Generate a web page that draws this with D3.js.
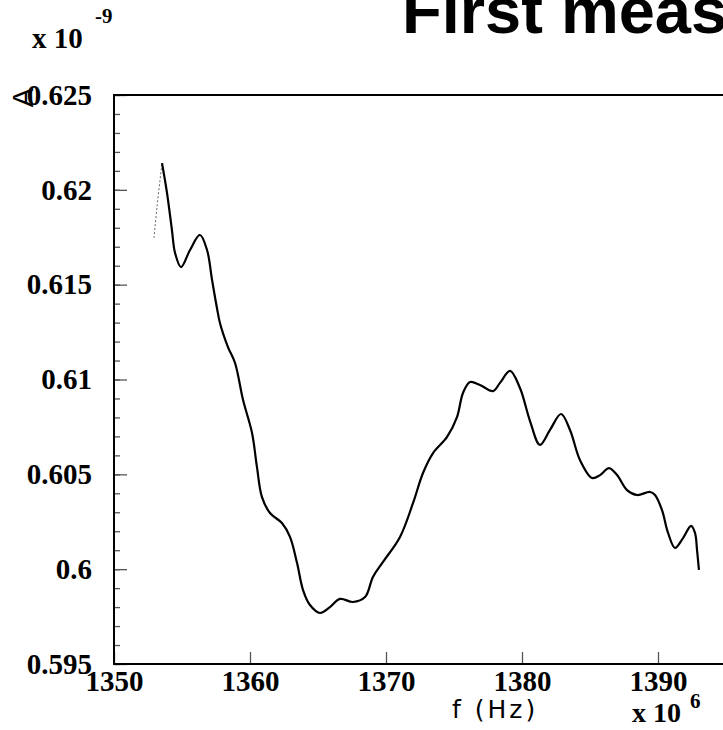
<!DOCTYPE html>
<html>
<head>
<meta charset="utf-8">
<script src="https://cdn.jsdelivr.net/npm/d3@7"></script>
<style>
  body { margin: 0; background: #fff; overflow: hidden; }
  #viz svg { display: block; }
</style>
</head>
<body>
<div id="viz"></div>
<script>
// frequency in MHz (axis is x 10^6 Hz)
const freqs = [
  1352.94, 1353.16, 1353.53, 1353.90, 1354.26, 1354.49, 1354.93, 1355.59, 1356.32, 1356.84,
  1357.21, 1357.57, 1357.79, 1358.38, 1358.90, 1359.49, 1360.15, 1360.51, 1360.88, 1361.47,
  1362.35, 1362.94, 1363.46, 1363.90, 1364.41, 1365.15, 1365.88, 1366.62, 1367.57, 1368.46,
  1369.04, 1369.78, 1371.03, 1371.99, 1372.72, 1373.46, 1374.49, 1375.22, 1375.66, 1376.18,
  1376.91, 1377.87, 1378.38, 1379.12, 1379.85, 1380.59, 1381.32, 1382.06, 1382.87, 1383.53,
  1384.26, 1385.15, 1385.74, 1386.40, 1386.99, 1387.72, 1388.46, 1389.41, 1389.78, 1390.29,
  1390.74, 1391.25, 1391.84, 1392.43, 1392.72, 1392.87, 1393.01,
];

// amplitude (x 10^-9)
const amps = [
  0.61746, 0.61909, 0.62141, 0.61983, 0.61788, 0.61667, 0.61593, 0.61683, 0.61762, 0.61683,
  0.61525, 0.61377, 0.61298, 0.61171, 0.61087, 0.60892, 0.60718, 0.60539, 0.60380, 0.60296,
  0.60243, 0.60170, 0.60032, 0.59890, 0.59811, 0.59769, 0.59800, 0.59843, 0.59827, 0.59853,
  0.59959, 0.60038, 0.60170, 0.60349, 0.60507, 0.60612, 0.60697, 0.60802, 0.60929, 0.60987,
  0.60971, 0.60939, 0.60982, 0.61045, 0.60955, 0.60781, 0.60655, 0.60734, 0.60818, 0.60734,
  0.60576, 0.60481, 0.60496, 0.60533, 0.60496, 0.60417, 0.60391, 0.60407, 0.60391, 0.60312,
  0.60191, 0.60112, 0.60164, 0.60228, 0.60191, 0.60101, 0.59996,
];

const xTicks = [1350, 1360, 1370, 1380, 1390];
const yTicks = [0.595, 0.6, 0.605, 0.61, 0.615, 0.62, 0.625];

const width = 723;
const height = 730;
const frameLeft = 114;
const frameRight = 794; // frame runs past the window edge
const frameTop = 95;
const frameBottom = 664;

const serif = '"Liberation Serif", "Times New Roman", serif';
const sans = '"Liberation Sans", Arial, sans-serif';

const svg = d3.select('#viz')
  .append('svg')
  .attr('width', width)
  .attr('height', height);

const x = d3.scaleLinear().domain([1350, 1400]).range([frameLeft, frameRight]);
const y = d3.scaleLinear().domain([0.595, 0.625]).range([frameBottom, frameTop]);

// minor y ticks
svg.append('g')
  .attr('transform', `translate(${frameLeft},0)`)
  .call(d3.axisLeft(y)
    .tickValues(d3.range(0, 31).map(i => 0.595 + i * 0.001))
    .tickSize(-6)
    .tickFormat(''))
  .call(g => g.select('.domain').remove())
  .call(g => g.selectAll('line').attr('stroke', '#555').attr('stroke-width', 1.3));

// major y ticks + labels
svg.append('g')
  .attr('transform', `translate(${frameLeft},0)`)
  .call(d3.axisLeft(y)
    .tickValues(yTicks)
    .tickSize(-13)
    .tickPadding(22)
    .tickFormat(d => String(+d.toFixed(3))))
  .call(g => g.select('.domain').remove())
  .call(g => g.selectAll('line').attr('stroke', '#555').attr('stroke-width', 1.3))
  .call(g => g.selectAll('text')
    .attr('fill', '#000')
    .style('font-family', serif)
    .style('font-weight', 'bold')
    .style('font-size', '29px'));

// x ticks + labels
svg.append('g')
  .attr('transform', `translate(0,${frameBottom})`)
  .call(d3.axisBottom(x)
    .tickValues(xTicks)
    .tickSize(-12)
    .tickPadding(6)
    .tickFormat(d3.format('d')))
  .call(g => g.select('.domain').remove())
  .call(g => g.selectAll('line').attr('stroke', '#555').attr('stroke-width', 1.3))
  .call(g => g.selectAll('text')
    .attr('fill', '#000')
    .style('font-family', serif)
    .style('font-weight', 'bold')
    .style('font-size', '29px'));

// frame
svg.append('rect')
  .attr('x', frameLeft)
  .attr('y', frameTop)
  .attr('width', frameRight - frameLeft)
  .attr('height', frameBottom - frameTop)
  .attr('fill', 'none')
  .attr('stroke', '#000')
  .attr('stroke-width', 2);

// curve
const points = freqs.map((f, i) => [f, amps[i]]);
const line = d3.line()
  .x(d => x(d[0]))
  .y(d => y(d[1]))
  .curve(d3.curveCatmullRom.alpha(0.5));

// the first rise is only sparsely sampled, so draw it fainter
svg.append('path')
  .datum(points.slice(0, 3))
  .attr('d', line)
  .attr('fill', 'none')
  .attr('stroke', '#666')
  .attr('stroke-width', 1)
  .attr('stroke-dasharray', '2,2');

svg.append('path')
  .datum(points.slice(2))
  .attr('d', line)
  .attr('fill', 'none')
  .attr('stroke', '#000')
  .attr('stroke-width', 2.2);

// title (runs off the right edge, as in the original)
svg.append('text')
  .attr('x', 402)
  .attr('y', 33)
  .style('font-family', sans)
  .style('font-weight', 'bold')
  .style('font-size', '65px')
  .text('First measurement');

// y exponent
svg.append('text')
  .attr('x', 32)
  .attr('y', 48)
  .style('font-family', serif)
  .style('font-weight', 'bold')
  .style('font-size', '29px')
  .text('x 10');
svg.append('text')
  .attr('x', 95)
  .attr('y', 23)
  .style('font-family', serif)
  .style('font-weight', 'bold')
  .style('font-size', '21px')
  .text('-9');

// y title
svg.append('text')
  .attr('transform', 'translate(33,88) rotate(-90)')
  .attr('text-anchor', 'end')
  .style('font-family', sans)
  .style('font-size', '29px')
  .text('A');

// x title
svg.append('text')
  .attr('x', 452)
  .attr('y', 718)
  .style('font-family', '"DejaVu Sans", sans-serif')
  .style('font-size', '25px')
  .style('letter-spacing', '3px')
  .text('f (Hz)');

// x exponent
svg.append('text')
  .attr('x', 632)
  .attr('y', 722)
  .style('font-family', serif)
  .style('font-weight', 'bold')
  .style('font-size', '28px')
  .text('x 10');
svg.append('text')
  .attr('x', 690)
  .attr('y', 708)
  .style('font-family', serif)
  .style('font-weight', 'bold')
  .style('font-size', '21px')
  .text('6');
</script>
</body>
</html>
